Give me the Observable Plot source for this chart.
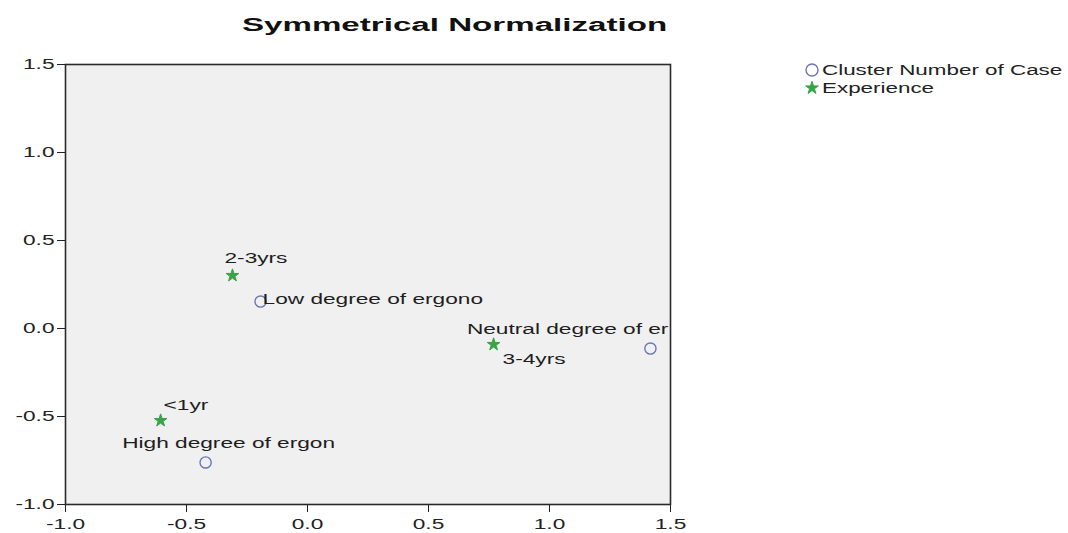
<!DOCTYPE html>
<html>
<head>
<meta charset="utf-8">
<script src="https://cdn.jsdelivr.net/npm/d3@7"></script>
<script src="https://cdn.jsdelivr.net/npm/@observablehq/plot@0.6"></script>
<style>
  html, body { margin: 0; padding: 0; background: #fff; }
  #wrap { position: relative; width: 1068px; height: 533px; font-family: "Liberation Sans", Arial, sans-serif; color: #222; }
  #title { height: 40px; width: 910px; text-align: center; line-height: 50px; }
  #title span { display: inline-block; font-weight: bold; font-size: 18px; transform: scaleX(1.84); transform-origin: center; color: #111; }
  #legend { position: absolute; left: 804px; top: 61px; font-size: 14px; }
  .lg { height: 18px; display: flex; align-items: center; }
  .lg svg { width: 16px; height: 16px; margin-right: 2px; }
  .lg span { display: inline-block; transform: scaleX(1.6); transform-origin: left center; white-space: nowrap; }
</style>
</head>
<body>
<div id="wrap">
  <div id="title"><span>Symmetrical Normalization</span></div>
  <div id="chart"></div>
  <div id="legend"></div>
</div>
<script>
// Data
const seriesNames = ["Cluster Number of Case", "Experience"];
const caseLabels = ["Low degree of ergono", "Neutral degree of er", "High degree of ergon"];
const caseX = [-0.194, 1.417, -0.421];
const caseY = [0.153, -0.114, -0.761];
const expLabels = ["2-3yrs", "3-4yrs", "<1yr"];
const expX = [-0.310, 0.769, -0.607];
const expY = [0.301, -0.091, -0.523];
const xTicks = [-1.0, -0.5, 0.0, 0.5, 1.0, 1.5];
const yTicks = [-1.0, -0.5, 0.0, 0.5, 1.0, 1.5];

const caseRows = caseLabels.map((l, i) => ({label: l, x: caseX[i], y: caseY[i]}));
const expRows = expLabels.map((l, i) => ({label: l, x: expX[i], y: expY[i]}));

const circleColor = "#6a76b6";
const starColor = "#36a447";
const labelStyle = {x: "x", y: "y", text: "label", fontSize: 14, fill: "#1e1e1e"};

const plot = Plot.plot({
  width: 1068,
  height: 493,
  marginLeft: 65,
  marginRight: 398,
  marginTop: 24,
  marginBottom: 29,
  style: {fontFamily: "Liberation Sans, Arial, sans-serif", fontSize: "14px", color: "#222", background: "#fff"},
  x: {domain: [-1, 1.5], ticks: xTicks, tickSize: 8, tickPadding: 7, tickFormat: d => d.toFixed(1), label: null},
  y: {domain: [-1, 1.5], ticks: yTicks, tickSize: 8, tickPadding: 3, tickFormat: d => d.toFixed(1), label: null},
  marks: [
    Plot.frame({fill: "#f0f0f0", stroke: "none"}),
    Plot.dot(caseRows, {x: "x", y: "y", r: 5.6, stroke: circleColor, strokeWidth: 1.4, fill: "none"}),
    Plot.dot(expRows, {x: "x", y: "y", r: 4, symbol: "star", fill: starColor, stroke: starColor, strokeWidth: 1}),
    Plot.text([expRows[0]], {...labelStyle, textAnchor: "start", dx: -8, dy: -17}),
    Plot.text([caseRows[0]], {...labelStyle, textAnchor: "start", dx: 2, dy: -2}),
    Plot.text([caseRows[1]], {...labelStyle, textAnchor: "end", dx: 18, dy: -19}),
    Plot.text([expRows[1]], {...labelStyle, textAnchor: "start", dx: 9, dy: 15}),
    Plot.text([expRows[2]], {...labelStyle, textAnchor: "start", dx: 3, dy: -15}),
    Plot.text([caseRows[2]], {...labelStyle, textAnchor: "middle", dx: 23, dy: -19}),
    Plot.frame({stroke: "#2a2a2a", strokeWidth: 1.6, fill: "none"})
  ]
});
document.getElementById("chart").appendChild(plot);

// Horizontally widen text glyphs like the reference rendering (scale about each text's own anchor)
function widen(svg, s) {
  svg.querySelectorAll("text").forEach(t => {
    const x = parseFloat(t.getAttribute("x")) || 0;
    const y = parseFloat(t.getAttribute("y")) || 0;
    const tr = t.getAttribute("transform") || "";
    t.setAttribute("transform", `${tr} translate(${x},${y}) scale(${s},1) translate(${-x},${-y})`.trim());
  });
}
widen(plot, 1.62);

// Legend
const legend = document.getElementById("legend");
const starPath = d3.symbol(d3.symbolStar, Math.PI * 4 * 4)();
const items = [
  {name: seriesNames[0], svg: `<svg viewBox="-8 -8 16 16"><circle r="6" fill="none" stroke="${circleColor}" stroke-width="1.4"/></svg>`},
  {name: seriesNames[1], svg: `<svg viewBox="-8 -8 16 16"><path d="${starPath}" fill="${starColor}" stroke="${starColor}" stroke-width="1"/></svg>`}
];
items.forEach(it => {
  const row = document.createElement("div");
  row.className = "lg";
  row.innerHTML = it.svg + `<span>${it.name}</span>`;
  legend.appendChild(row);
});
</script>
</body>
</html>
